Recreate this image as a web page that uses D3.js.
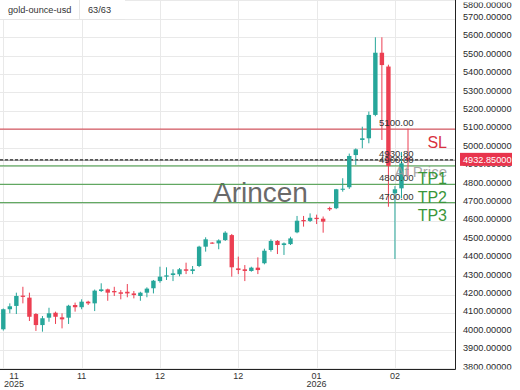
<!DOCTYPE html>
<html lang="en">
<head>
<meta charset="UTF-8">
<title>gold-ounce-usd</title>
<script src="https://cdn.jsdelivr.net/npm/d3@7"></script>
<style>
  body { margin: 0; background: #fff; }
  svg { display: block; font-family: "Liberation Sans", Arial, sans-serif; }
</style>
</head>
<body>
<script>
var w = 520, h = 390;
var plotRight = 455, plotBottom = 369;

// daily candles, oldest first
var opens  = [4012,4121,4139,4195,4184,4095,4035,4075,4102,4077,4075,4144,4132,4162,4153,4220,
              4229,4220,4213,4216,4207,4193,4211,4235,4274,4298,4307,4311,4338,4329,4356,4461,
              4483,4479,4497,4524,4343,4338,4329,4347,4371,4443,4492,4470,4475,4539,4606,4601,
              4618,4613,4671,4670,4770,4784,4959,5041,5050,5177,5515,5440,4751,4778,4945];
var highs  = [4125,4153,4211,4243,4211,4100,4084,4129,4108,4099,4145,4157,4175,4167,4228,4262,
              4233,4243,4225,4258,4220,4216,4240,4280,4352,4349,4338,4345,4374,4356,4466,4512,
              4486,4501,4545,4530,4407,4361,4352,4403,4450,4501,4497,4484,4515,4628,4628,4642,
              4635,4625,4678,4775,4833,4967,4995,5113,5195,5599,5599,5450,4790,4976,5102];
var lows   = [4005,4099,4095,4153,4057,4003,3999,4053,4041,4017,4041,4108,4121,4144,4111,4215,
              4167,4193,4175,4186,4180,4167,4186,4207,4265,4280,4274,4300,4312,4312,4350,4434,
              4476,4447,4492,4298,4312,4274,4325,4312,4365,4434,4421,4416,4470,4534,4570,4595,
              4584,4537,4655,4665,4760,4775,4905,4996,5023,5170,5041,4678,4394,4724,4845];
var closes = [4121,4137,4193,4188,4080,4035,4072,4099,4080,4066,4140,4132,4162,4153,4222,4229,
              4211,4213,4205,4207,4198,4211,4233,4276,4298,4305,4316,4338,4330,4338,4461,4501,
              4479,4495,4537,4349,4334,4329,4347,4334,4439,4492,4470,4479,4506,4602,4599,4618,
              4611,4597,4664,4773,4776,4954,4990,5050,5177,5515,5448,4900,4773,4914,4932.85];

var xTickIndex = [0, 12, 24, 36, 48, 60];
var xTickMonth = ["11", "11", "12", "12", "01", "02"];
var xTickYear  = ["2025", "", "", "", "2026", ""];
var priceTicks = d3.range(3800, 5801, 100);

var lastPrice = 4932.85;
var entryLevel = 4930.80;
var slLevel = 5100;
var tpLevels = [4900, 4800, 4700];
var tpNames = ["TP1", "TP2", "TP3"];

var upColor = "#26a69a", downColor = "#ec3f52";
var greenLine = "#3f963f", redLine = "#cf3440";

var xScale = d3.scaleLinear().domain([0, opens.length - 1]).range([3.3, 408]);
var yScale = d3.scaleLinear().domain([3800, 5800]).range([368.3, 0.3]);

var svg = d3.select("body").append("svg")
    .attr("width", w)
    .attr("height", h);

svg.append("rect").attr("width", w).attr("height", h).attr("fill", "#fff");

var defs = svg.append("defs");
defs.append("clipPath").attr("id", "plotClip")
    .append("rect").attr("x", 0).attr("y", 0).attr("width", plotRight).attr("height", plotBottom);
defs.append("clipPath").attr("id", "axisClip")
    .append("rect").attr("x", plotRight + 1).attr("y", 2.5).attr("width", 70).attr("height", plotBottom - 2);

var plot = svg.append("g").attr("clip-path", "url(#plotClip)");

// grid
plot.selectAll(".hgrid")
    .data(priceTicks)
    .enter()
    .append("line")
    .attr("x1", 0).attr("x2", plotRight)
    .attr("y1", function(d) { return Math.round(yScale(d)) + 0.5; })
    .attr("y2", function(d) { return Math.round(yScale(d)) + 0.5; })
    .attr("stroke", "#e9e9e9");

plot.selectAll(".vgrid")
    .data(xTickIndex)
    .enter()
    .append("line")
    .attr("x1", function(d) { return Math.round(xScale(d)) + 0.5; })
    .attr("x2", function(d) { return Math.round(xScale(d)) + 0.5; })
    .attr("y1", 0).attr("y2", plotBottom)
    .attr("stroke", "#e9e9e9");

// watermark
plot.append("text")
    .attr("x", 213).attr("y", 201.5)
    .attr("font-size", 28)
    .attr("fill", "#5a5a5a")
    .attr("opacity", 0.9)
    .text("Arincen");

// level lines
plot.append("line")
    .attr("x1", 0).attr("x2", plotRight)
    .attr("y1", yScale(slLevel)).attr("y2", yScale(slLevel))
    .attr("stroke", redLine).attr("stroke-width", 1);

plot.selectAll(".tp")
    .data(tpLevels)
    .enter()
    .append("line")
    .attr("x1", 0).attr("x2", plotRight)
    .attr("y1", function(d) { return yScale(d); })
    .attr("y2", function(d) { return yScale(d); })
    .attr("stroke", greenLine).attr("stroke-width", 1);

plot.append("line")
    .attr("x1", 0).attr("x2", plotRight)
    .attr("y1", yScale(entryLevel)).attr("y2", yScale(entryLevel))
    .attr("stroke", "#888").attr("stroke-width", 1);

plot.append("line")
    .attr("x1", 0).attr("x2", plotRight)
    .attr("y1", yScale(lastPrice)).attr("y2", yScale(lastPrice))
    .attr("stroke", "#111").attr("stroke-width", 1)
    .attr("stroke-dasharray", "3,2");

// candles
var idx = d3.range(opens.length);
var candle = plot.selectAll(".candle")
    .data(idx)
    .enter()
    .append("g");

candle.append("line")
    .attr("x1", function(i) { return xScale(i); })
    .attr("x2", function(i) { return xScale(i); })
    .attr("y1", function(i) { return yScale(highs[i]); })
    .attr("y2", function(i) { return yScale(lows[i]); })
    .attr("stroke", function(i) { return closes[i] >= opens[i] ? upColor : downColor; })
    .attr("stroke-width", 1);

candle.append("rect")
    .attr("x", function(i) { return xScale(i) - 2.2; })
    .attr("width", 4.4)
    .attr("y", function(i) { return yScale(Math.max(opens[i], closes[i])); })
    .attr("height", function(i) {
        return Math.max(1, Math.abs(yScale(opens[i]) - yScale(closes[i])));
    })
    .attr("fill", function(i) { return closes[i] >= opens[i] ? upColor : downColor; });

// level price labels
var levelLabels = [slLevel, entryLevel].concat(tpLevels);
plot.selectAll(".lvl")
    .data(levelLabels)
    .enter()
    .append("text")
    .attr("x", 379)
    .attr("y", function(d) { return yScale(d) - 3; })
    .attr("font-size", 9.6)
    .attr("fill", "#333")
    .text(function(d) { return d.toFixed(2); });

// level names
plot.append("text")
    .attr("x", 447).attr("y", yScale(slLevel) + 18.5)
    .attr("text-anchor", "end")
    .attr("font-size", 16)
    .attr("fill", "#d8323e")
    .text("SL");

plot.append("text")
    .attr("x", 447).attr("y", yScale(entryLevel) + 17)
    .attr("text-anchor", "end")
    .attr("font-size", 15)
    .attr("fill", "#9a9a9a")
    .attr("opacity", 0.85)
    .text("At Price");

plot.selectAll(".tpname")
    .data(tpLevels)
    .enter()
    .append("text")
    .attr("x", 447)
    .attr("y", function(d) { return yScale(d) + 18.5; })
    .attr("text-anchor", "end")
    .attr("font-size", 16)
    .attr("fill", "#3a963a")
    .text(function(d, i) { return tpNames[i]; });

// frame
svg.append("line")
    .attr("x1", plotRight + 0.5).attr("x2", plotRight + 0.5)
    .attr("y1", 0).attr("y2", plotBottom + 0.5)
    .attr("stroke", "#222");
svg.append("line")
    .attr("x1", 0).attr("x2", plotRight + 0.5)
    .attr("y1", plotBottom + 0.5).attr("y2", plotBottom + 0.5)
    .attr("stroke", "#222");

// right price axis
var axisG = svg.append("g").attr("clip-path", "url(#axisClip)");
axisG.selectAll("text")
    .data(priceTicks)
    .enter()
    .append("text")
    .attr("x", 463)
    .attr("y", function(d) { return Math.max(4.5, yScale(d) - 2); })
    .attr("dy", "0.35em")
    .attr("font-size", 9.2)
    .attr("fill", "#2a2a2a")
    .text(function(d) { return d3.format(".5f")(d); });

axisG.append("rect")
    .attr("x", 460).attr("y", yScale(lastPrice) - 7)
    .attr("width", 52).attr("height", 13)
    .attr("fill", "#e8344c");
axisG.append("text")
    .attr("x", 463).attr("y", yScale(lastPrice))
    .attr("dy", "0.35em")
    .attr("font-size", 9.2)
    .attr("fill", "#fff")
    .text(d3.format(".5f")(lastPrice));

// bottom date axis
var xLab = svg.selectAll(".xlab")
    .data(xTickIndex)
    .enter()
    .append("g");
xLab.append("text")
    .attr("x", function(d) { return Math.max(14, xScale(d)); })
    .attr("y", 379)
    .attr("text-anchor", "middle")
    .attr("font-size", 9)
    .attr("fill", "#333")
    .text(function(d, i) { return xTickMonth[i]; });
xLab.append("text")
    .attr("x", function(d) { return Math.max(14, xScale(d)); })
    .attr("y", 387)
    .attr("text-anchor", "middle")
    .attr("font-size", 9)
    .attr("fill", "#333")
    .text(function(d, i) { return xTickYear[i]; });

// title
svg.append("rect")
    .attr("x", 0).attr("y", 0).attr("width", 125).attr("height", 19)
    .attr("fill", "#fff");
svg.append("line")
    .attr("x1", 79.5).attr("x2", 79.5).attr("y1", 0).attr("y2", 19)
    .attr("stroke", "#e6e6e6");
svg.append("line")
    .attr("x1", 0).attr("x2", 125).attr("y1", 19.5).attr("y2", 19.5)
    .attr("stroke", "#e6e6e6");
svg.append("text")
    .attr("x", 8).attr("y", 13)
    .attr("font-size", 9.2)
    .attr("fill", "#333")
    .text("gold-ounce-usd");
svg.append("text")
    .attr("x", 88).attr("y", 13)
    .attr("font-size", 9.2)
    .attr("fill", "#333")
    .text("63/63");
</script>
</body>
</html>
